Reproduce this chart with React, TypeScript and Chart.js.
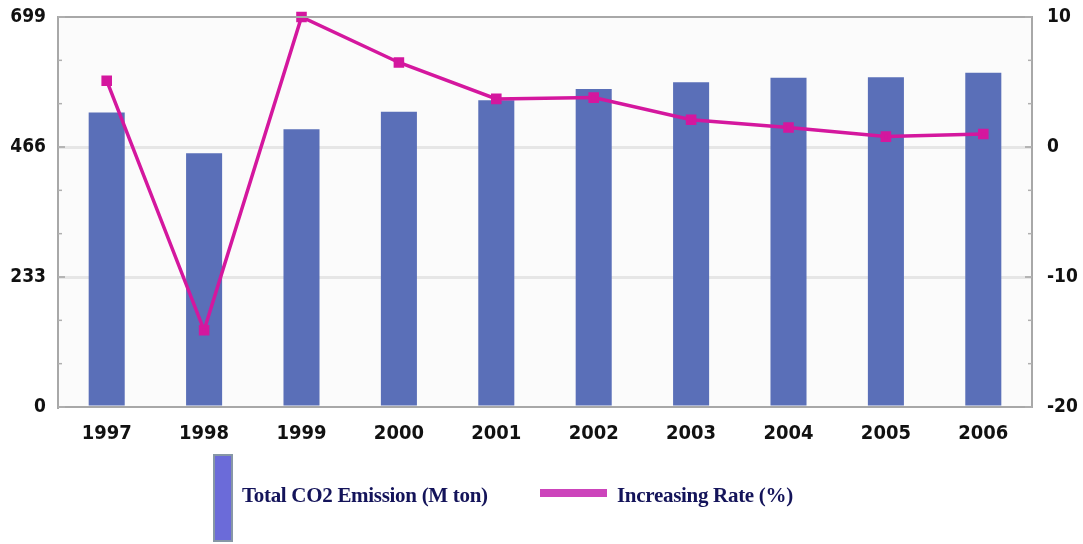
import React, { useEffect, useRef } from "react";
import { Chart, registerables } from "chart.js";

Chart.register(...registerables);

const years = ["1997", "1998", "1999", "2000", "2001", "2002", "2003", "2004", "2005", "2006"];
const emissions = [528, 455, 498, 529, 550, 570, 582, 590, 591, 599];
const rates = [5.1, -14.1, 10, 6.5, 3.7, 3.8, 2.1, 1.5, 0.8, 1.0];
const leftTicks = [0, 233, 466, 699];
const rightTicks = [-20, -10, 0, 10];

const AXIS_FONT = "'DejaVu Sans Condensed', 'Liberation Sans', sans-serif";
const LEGEND_FONT = "'Liberation Serif', 'DejaVu Serif', serif";

const framePlugin = {
  id: "frame",
  beforeDraw(chart: any) {
    const { ctx, chartArea } = chart;
    ctx.save();
    ctx.fillStyle = "#fbfbfb";
    ctx.fillRect(chartArea.left, chartArea.top, chartArea.right - chartArea.left, chartArea.bottom - chartArea.top);
    ctx.restore();
  },
  afterDatasetsDraw(chart: any) {
    const { ctx, chartArea } = chart;
    ctx.save();
    ctx.strokeStyle = "#a8a8a8";
    ctx.lineWidth = 2;
    ctx.beginPath();
    ctx.moveTo(chartArea.left, chartArea.top);
    ctx.lineTo(chartArea.right, chartArea.top);
    ctx.stroke();
    ctx.strokeStyle = "#b0b0b0";
    ctx.lineWidth = 1.5;
    const drawMinor = (scale: any, ticks: number[], left: boolean) => {
      for (let i = 0; i < ticks.length - 1; i++) {
        const a = ticks[i];
        const b = ticks[i + 1];
        for (let k = 0; k <= 3; k++) {
          const v = a + ((b - a) * k) / 3;
          const y = scale.getPixelForValue(v);
          const len = k === 0 || k === 3 ? 7 : 4;
          ctx.beginPath();
          if (left) {
            ctx.moveTo(chartArea.left, y);
            ctx.lineTo(chartArea.left + len, y);
          } else {
            ctx.moveTo(chartArea.right, y);
            ctx.lineTo(chartArea.right - len, y);
          }
          ctx.stroke();
        }
      }
    };
    drawMinor(chart.scales.y, leftTicks, true);
    drawMinor(chart.scales.y1, rightTicks, false);
    ctx.restore();
  },
};

export default function App() {
  const ref = useRef<HTMLCanvasElement | null>(null);

  useEffect(() => {
    if (!ref.current) return;
    const chart = new Chart(ref.current, {
      type: "bar",
      data: {
        labels: years,
        datasets: [
          {
            type: "line",
            label: "Increasing Rate (%)",
            data: rates,
            yAxisID: "y1",
            borderColor: "#d4179e",
            backgroundColor: "#d4179e",
            borderWidth: 3.5,
            pointStyle: "rect",
            pointRadius: 5,
            pointBackgroundColor: "#d4179e",
            pointBorderColor: "#d4179e",
            tension: 0,
            clip: false,
            order: 0,
          } as any,
          {
            type: "bar",
            label: "Total CO2 Emission (M ton)",
            data: emissions,
            yAxisID: "y",
            backgroundColor: "#5a6fb8",
            barPercentage: 0.37,
            categoryPercentage: 1,
            order: 1,
          },
        ],
      },
      options: {
        responsive: false,
        animation: false,
        layout: { padding: { top: 0, left: 0, right: 0, bottom: 0 } },
        plugins: { legend: { display: false }, tooltip: { enabled: false } },
        scales: {
          x: {
            grid: { display: false, drawTicks: false },
            border: { display: true, color: "#a8a8a8", width: 2 },
            ticks: {
              color: "#111",
              padding: 15,
              font: { family: AXIS_FONT, size: 20, weight: "bold" },
            },
            afterFit: (s: any) => {
              s.height = 137;
            },
          },
          y: {
            position: "left",
            min: 0,
            max: 699,
            afterBuildTicks: (s: any) => {
              s.ticks = leftTicks.map((v) => ({ value: v }));
            },
            grid: {
              drawTicks: false,
              color: (c: any) => (c.tick && (c.tick.value === 0 || c.tick.value === 699) ? "rgba(0,0,0,0)" : "#e6e6e6"),
              lineWidth: 3,
            },
            border: { display: true, color: "#a8a8a8", width: 2 },
            ticks: {
              color: "#111",
              padding: 12,
              font: { family: AXIS_FONT, size: 19, weight: "bold" },
            },
            afterFit: (s: any) => {
              s.width = 58;
              s.paddingTop = 17;
              s.paddingBottom = 0;
            },
          },
          y1: {
            position: "right",
            min: -20,
            max: 10,
            afterBuildTicks: (s: any) => {
              s.ticks = rightTicks.map((v) => ({ value: v }));
            },
            grid: { drawOnChartArea: false, drawTicks: false },
            border: { display: true, color: "#a8a8a8", width: 2 },
            ticks: {
              color: "#111",
              padding: 15,
              font: { family: AXIS_FONT, size: 19, weight: "bold" },
            },
            afterFit: (s: any) => {
              s.width = 51;
              s.paddingTop = 17;
              s.paddingBottom = 0;
            },
          },
        },
      } as any,
      plugins: [framePlugin],
    });
    return () => chart.destroy();
  }, []);

  const legendText: React.CSSProperties = {
    position: "absolute",
    top: 482,
    height: 26,
    lineHeight: "26px",
    fontFamily: LEGEND_FONT,
    fontWeight: "bold",
    fontSize: 21,
    color: "#14145a",
    whiteSpace: "nowrap",
    letterSpacing: "-0.3px",
  };

  return (
    <div style={{ position: "absolute", left: 0, top: 0, width: 1083, height: 544, background: "#fff", overflow: "hidden" }}>
      <canvas ref={ref} width={1083} height={544} style={{ position: "absolute", left: 0, top: 0, width: 1083, height: 544 }} />
      <div
        style={{
          position: "absolute",
          left: 213,
          top: 454,
          width: 16,
          height: 84,
          background: "#6b6bd9",
          border: "2px solid #8797a6",
        }}
      />
      <div style={{ ...legendText, left: 242 }}>Total CO2 Emission (M ton)</div>
      <div style={{ position: "absolute", left: 540, top: 489, width: 67, height: 8, background: "#cc44bb" }} />
      <div style={{ ...legendText, left: 617 }}>Increasing Rate (%)</div>
    </div>
  );
}
